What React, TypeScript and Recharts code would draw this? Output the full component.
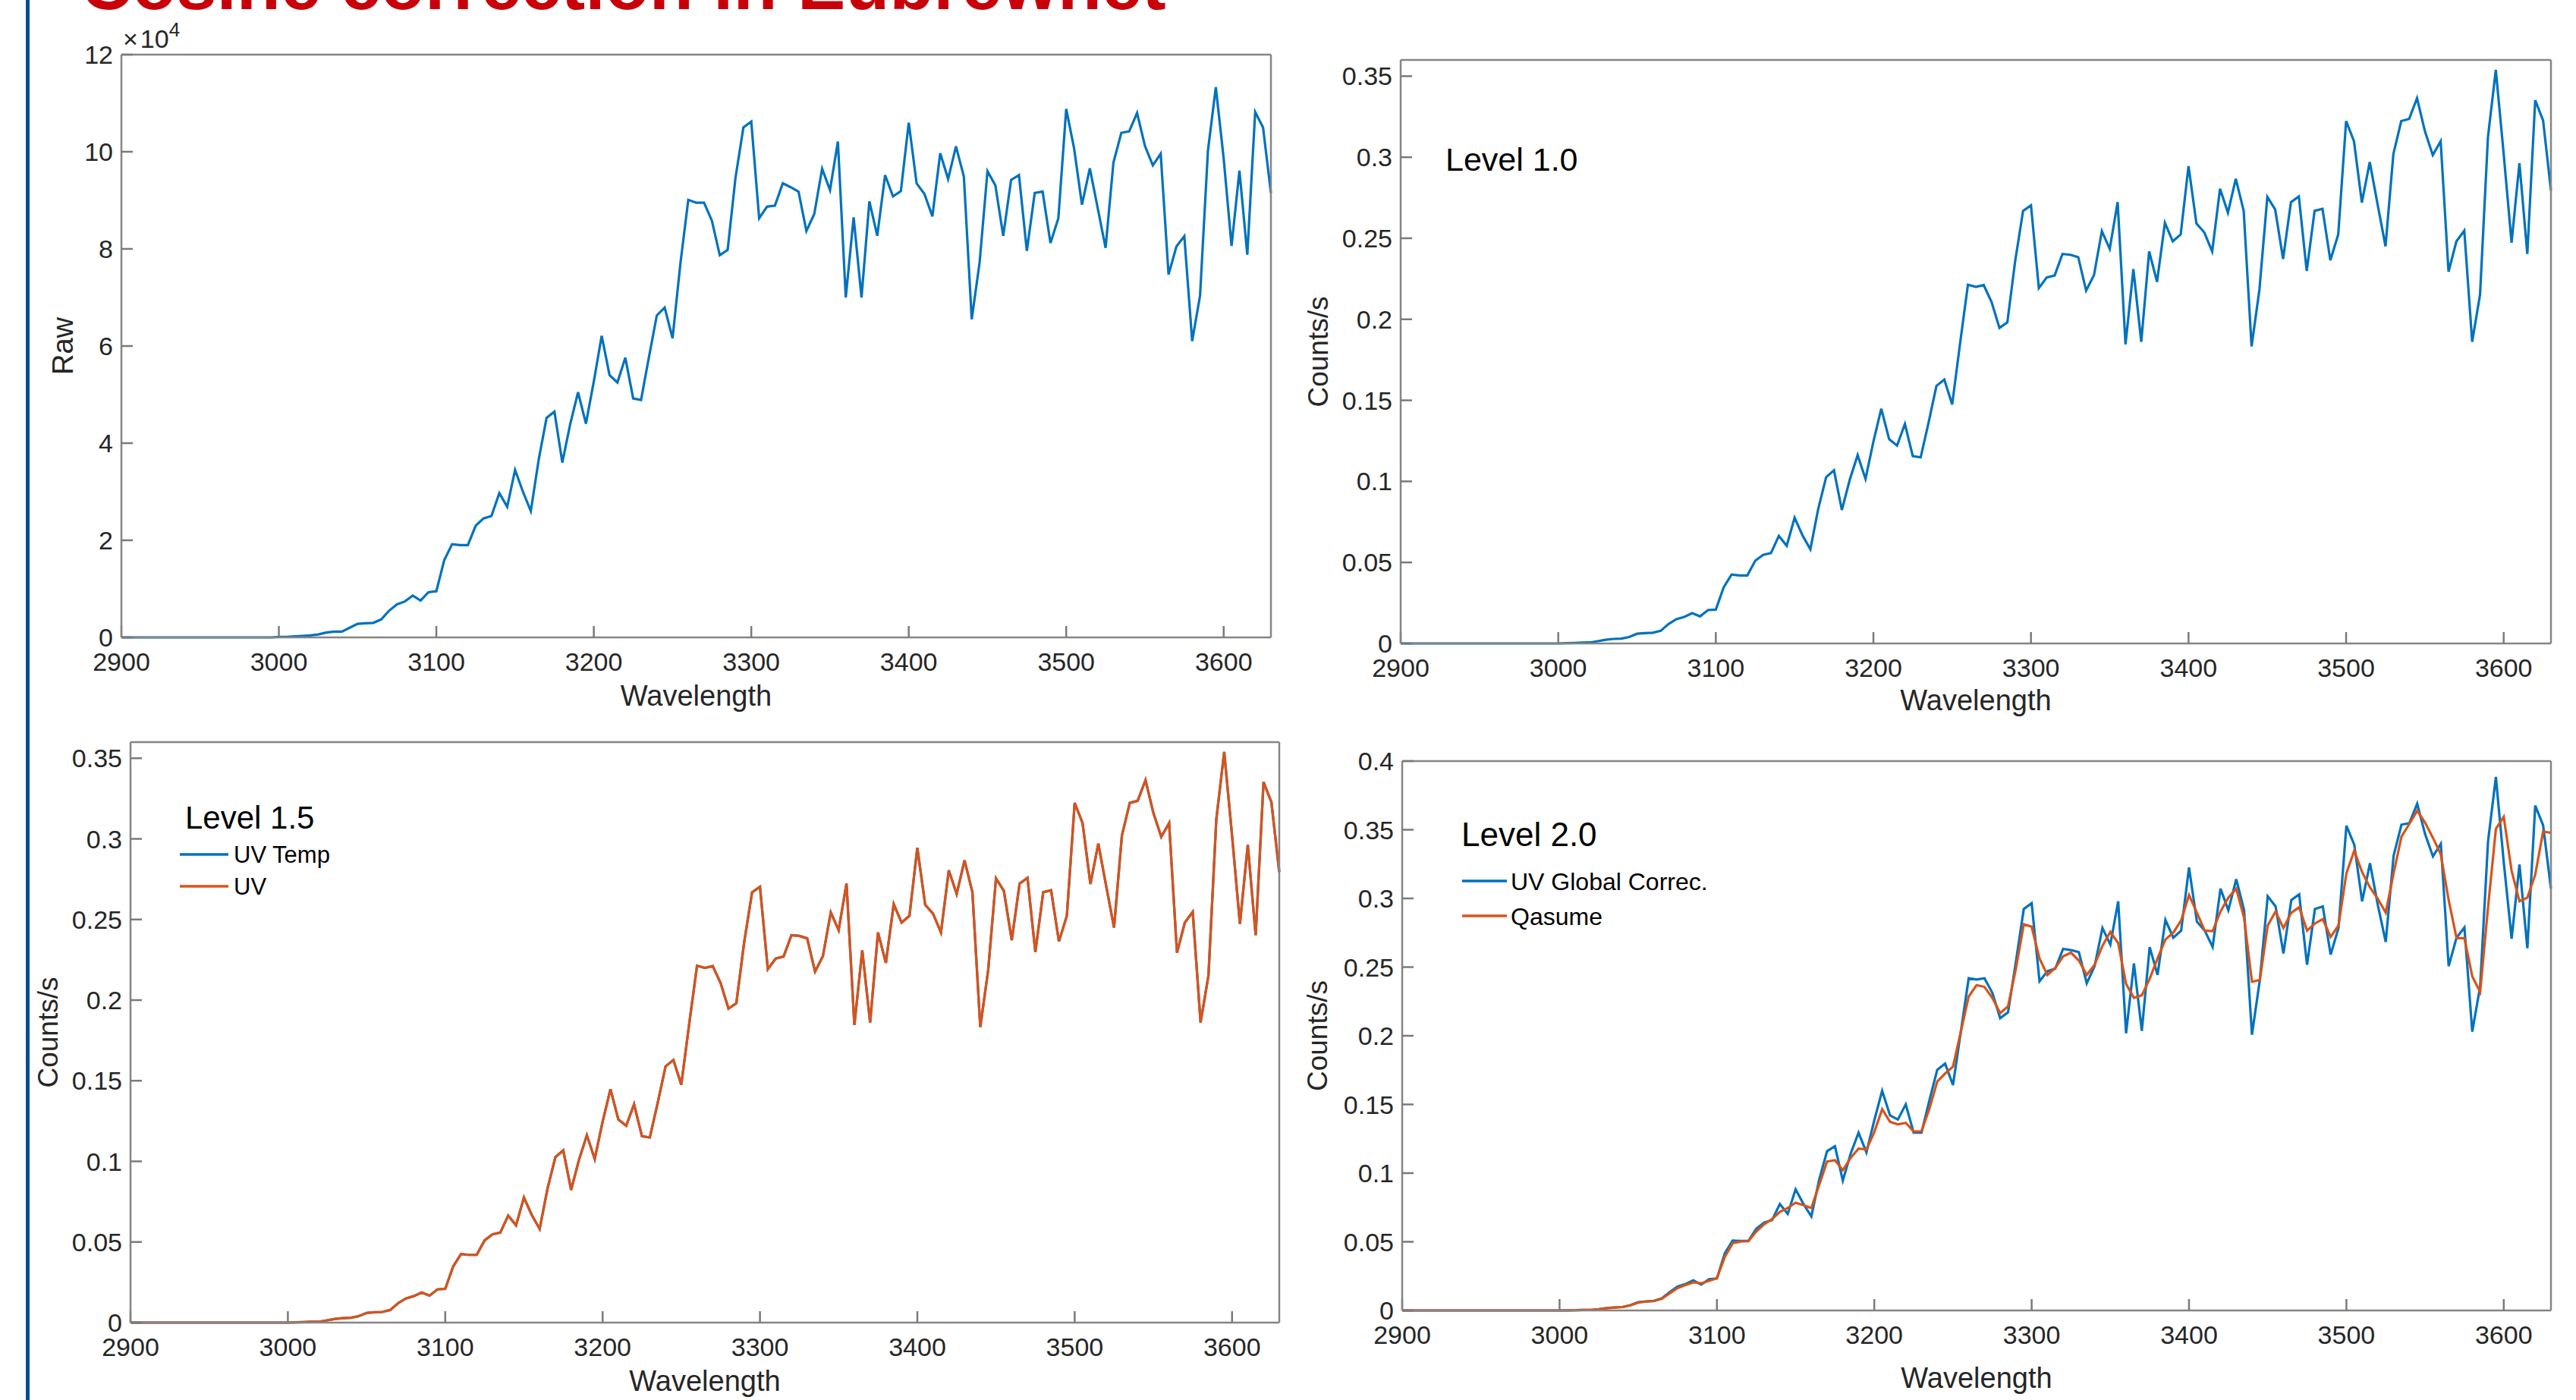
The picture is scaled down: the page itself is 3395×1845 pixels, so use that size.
import React from 'react';
import { LineChart, Line, XAxis, YAxis, Legend } from 'recharts';

const W = 3395;
const H = 1845;
const FONT = '"Liberation Sans", Arial, Helvetica, sans-serif';
const BLUE = '#0072BD';
const ORANGE = '#D95319';
const TXT = '#262626';

const WAVELENGTHS = [
  2900, 2905, 2910, 2915, 2920, 2925, 2930, 2935, 2940, 2945, 2950, 2955, 2960, 2965, 2970, 2975, 2980, 2985, 2990, 2995,
  3000, 3005, 3010, 3015, 3020, 3025, 3030, 3035, 3040, 3045, 3050, 3055, 3060, 3065, 3070, 3075, 3080, 3085, 3090, 3095,
  3100, 3105, 3110, 3115, 3120, 3125, 3130, 3135, 3140, 3145, 3150, 3155, 3160, 3165, 3170, 3175, 3180, 3185, 3190, 3195,
  3200, 3205, 3210, 3215, 3220, 3225, 3230, 3235, 3240, 3245, 3250, 3255, 3260, 3265, 3270, 3275, 3280, 3285, 3290, 3295,
  3300, 3305, 3310, 3315, 3320, 3325, 3330, 3335, 3340, 3345, 3350, 3355, 3360, 3365, 3370, 3375, 3380, 3385, 3390, 3395,
  3400, 3405, 3410, 3415, 3420, 3425, 3430, 3435, 3440, 3445, 3450, 3455, 3460, 3465, 3470, 3475, 3480, 3485, 3490, 3495,
  3500, 3505, 3510, 3515, 3520, 3525, 3530, 3535, 3540, 3545, 3550, 3555, 3560, 3565, 3570, 3575, 3580, 3585, 3590, 3595,
  3600, 3605, 3610, 3615, 3620, 3625, 3630,
];

// Raw counts, in units of 10^4
const RAW_E4 = [
  0, 0, 0, 0, 0, 0, 0, 0, 0, 0, 0, 0, 0, 0, 0, 0, 0, 0, 0, 0,
  0.01, 0.01, 0.02, 0.03, 0.04, 0.06, 0.1, 0.12, 0.12, 0.2, 0.28, 0.29, 0.3, 0.37, 0.55, 0.68, 0.74, 0.86, 0.76, 0.93,
  0.95, 1.59, 1.92, 1.9, 1.9, 2.3, 2.45, 2.5, 2.97, 2.69, 3.45, 3.0, 2.6, 3.66, 4.52, 4.65, 3.6, 4.39, 5.05, 4.4,
  5.27, 6.21, 5.4, 5.25, 5.76, 4.92, 4.89, 5.77, 6.63, 6.79, 6.16, 7.7, 9.01, 8.95, 8.95, 8.58, 7.87, 7.98, 9.47, 10.5,
  10.62, 8.63, 8.87, 8.89, 9.35, 9.27, 9.18, 8.37, 8.72, 9.65, 9.21, 10.21, 7.0, 8.65, 7.0, 8.98, 8.27, 9.52, 9.08, 9.19,
  10.6, 9.35, 9.13, 8.67, 9.97, 9.44, 10.11, 9.49, 6.55, 7.72, 9.6, 9.31, 8.27, 9.42, 9.52, 7.96, 9.15, 9.18, 8.12, 8.63,
  10.88, 10.07, 8.91, 9.66, 8.84, 8.02, 9.78, 10.39, 10.42, 10.8, 10.12, 9.72, 9.96, 7.47, 8.05, 8.26, 6.1, 7.04, 10.02, 11.33,
  9.86, 8.06, 9.61, 7.88, 10.82, 10.5, 9.15,
];

// Level 1.0 counts/s
const LEVEL_10 = [
  0, 0, 0, 0, 0, 0, 0, 0, 0, 0, 0, 0, 0, 0, 0, 0, 0, 0, 0, 0,
  0, 0.0002, 0.0003, 0.0005, 0.0006, 0.0014, 0.0023, 0.0028, 0.003, 0.004, 0.006, 0.0064, 0.0066, 0.0078, 0.012, 0.015, 0.0164, 0.0187, 0.0167, 0.0206,
  0.0209, 0.0347, 0.0425, 0.042, 0.042, 0.051, 0.0547, 0.0558, 0.0664, 0.0603, 0.0776, 0.0667, 0.0581, 0.0831, 0.1026, 0.1068, 0.0823, 0.101, 0.1162, 0.1015,
  0.1245, 0.1448, 0.126, 0.1221, 0.1354, 0.1156, 0.1148, 0.1362, 0.1589, 0.1628, 0.1475, 0.185, 0.2213, 0.22, 0.2211, 0.2106, 0.1947, 0.1981, 0.2361, 0.2669,
  0.2703, 0.2192, 0.2258, 0.227, 0.2403, 0.2398, 0.2383, 0.2177, 0.2273, 0.2544, 0.2434, 0.2723, 0.1845, 0.2309, 0.1861, 0.2419, 0.2231, 0.2595, 0.2481, 0.2523,
  0.2945, 0.2591, 0.2536, 0.2419, 0.2805, 0.2658, 0.2867, 0.2669, 0.1833, 0.2184, 0.2755, 0.2677, 0.2372, 0.2723, 0.2758, 0.2298, 0.2669, 0.2681, 0.2364, 0.2523,
  0.3223, 0.3098, 0.272, 0.297, 0.2708, 0.245, 0.302, 0.3223, 0.3236, 0.3364, 0.3161, 0.3013, 0.3098, 0.2294, 0.2481, 0.2547, 0.1861, 0.2153, 0.3122, 0.3539,
  0.302, 0.2473, 0.2963, 0.2403, 0.3352, 0.3227, 0.2794,
];

// Level 1.5: both curves coincide in the picture
const UV_TEMP_15 = LEVEL_10;
const UV_15 = LEVEL_10;

// Level 2.0
const UV_GLOBAL = [
  0, 0, 0, 0, 0, 0, 0, 0, 0, 0, 0, 0, 0, 0, 0, 0, 0, 0, 0, 0,
  0, 0.0001, 0.0002, 0.0003, 0.0004, 0.0009, 0.0018, 0.0022, 0.0025, 0.0039, 0.0061, 0.0066, 0.007, 0.0088, 0.0134, 0.0174, 0.0192, 0.0219, 0.0188, 0.0228,
  0.0233, 0.0416, 0.0509, 0.0506, 0.0506, 0.0595, 0.064, 0.0658, 0.0775, 0.0703, 0.0882, 0.0775, 0.0685, 0.0954, 0.116, 0.1196, 0.0945, 0.1142, 0.1295, 0.1151,
  0.1384, 0.16, 0.142, 0.139, 0.1501, 0.1295, 0.1295, 0.1528, 0.1752, 0.1797, 0.1641, 0.203, 0.2419, 0.241, 0.2419, 0.2313, 0.2128, 0.2171, 0.254, 0.2923,
  0.2966, 0.2397, 0.247, 0.2489, 0.2633, 0.2624, 0.2609, 0.2382, 0.2507, 0.2785, 0.2664, 0.2979, 0.2018, 0.2526, 0.2036, 0.2646, 0.2443, 0.2844, 0.2714, 0.2766,
  0.3225, 0.2831, 0.2766, 0.2646, 0.3071, 0.2914, 0.314, 0.2914, 0.2008, 0.2406, 0.3016, 0.2942, 0.26, 0.2988, 0.3029, 0.2517, 0.2923, 0.2942, 0.2591, 0.2785,
  0.353, 0.3391, 0.2979, 0.3256, 0.2951, 0.2683, 0.3311, 0.3537, 0.3548, 0.369, 0.3469, 0.3306, 0.3398, 0.2507, 0.2714, 0.2788, 0.203, 0.2359, 0.3413, 0.3884,
  0.3265, 0.2707, 0.3247, 0.2637, 0.3676, 0.3533, 0.3071,
];

const QASUME = [
  0, 0, 0, 0, 0, 0, 0, 0, 0, 0, 0, 0, 0, 0, 0, 0, 0, 0, 0, 0,
  0, 0.0001, 0.0002, 0.0003, 0.0004, 0.0009, 0.0016, 0.0021, 0.0025, 0.0037, 0.0057, 0.0065, 0.0069, 0.0085, 0.0125, 0.0163, 0.0185, 0.0205, 0.0198, 0.0215,
  0.0235, 0.039, 0.0489, 0.0502, 0.0504, 0.0574, 0.0628, 0.0665, 0.0718, 0.0746, 0.0785, 0.0767, 0.0746, 0.0915, 0.1085, 0.1094, 0.1022, 0.1111, 0.1178, 0.1172,
  0.1298, 0.1466, 0.1374, 0.1355, 0.1366, 0.1303, 0.1305, 0.1468, 0.1667, 0.1725, 0.1775, 0.203, 0.2286, 0.2369, 0.2356, 0.2276, 0.2165, 0.2215, 0.2489, 0.2812,
  0.2794, 0.2563, 0.2443, 0.2493, 0.2578, 0.2605, 0.2548, 0.2443, 0.2517, 0.2655, 0.2757, 0.2674, 0.2378, 0.2276, 0.2295, 0.2415, 0.2563, 0.2701, 0.2751, 0.284,
  0.3025, 0.2896, 0.2766, 0.2762, 0.2905, 0.3006, 0.3071, 0.2859, 0.2393, 0.2406, 0.2803, 0.2905, 0.2785, 0.2896, 0.2936, 0.2766, 0.2818, 0.2849, 0.272, 0.2803,
  0.3182, 0.3348, 0.3191, 0.308, 0.2997, 0.2896, 0.3182, 0.345, 0.3543, 0.3639, 0.3552, 0.3441, 0.3321, 0.2988, 0.2711, 0.2711, 0.2433, 0.2319, 0.2933, 0.3506,
  0.3594, 0.32, 0.2979, 0.3006, 0.3173, 0.3487, 0.3478,
];

const X_TICKS = [2900, 3000, 3100, 3200, 3300, 3400, 3500, 3600];
const RAW_TICKS = [0, 2, 4, 6, 8, 10, 12];
const COUNT_TICKS = [0, 0.05, 0.1, 0.15, 0.2, 0.25, 0.3, 0.35];
const COUNT_TICKS_L2 = [0, 0.05, 0.1, 0.15, 0.2, 0.25, 0.3, 0.35, 0.4];

const rows = WAVELENGTHS.map((w, i) => ({
  w,
  raw: RAW_E4[i],
  l10: LEVEL_10[i],
  uvTemp: UV_TEMP_15[i],
  uv: UV_15[i],
  glob: UV_GLOBAL[i],
  qas: QASUME[i],
}));

type Rect = { l: number; t: number; r: number; b: number };
type Series = { key: string; color: string; name: string };
type LegendSpec = {
  title: string;
  titleX: number;
  titleY: number;
  titleSize: number;
  items?: { name: string; color: string; y: number }[];
  lineX1?: number;
  lineX2?: number;
  textX?: number;
  itemSize?: number;
};

type PanelProps = {
  plot: Rect;
  yDomain: [number, number];
  yTicks: number[];
  series: Series[];
  yLabel: string;
  yLabelX: number;
  yLabelSize: number;
  xLabelY: number;
  legend?: LegendSpec;
  exponent?: boolean;
};

const axisLineStyle = { stroke: '#858585', strokeWidth: 2.5 };
const tickLineStyle = { stroke: '#7a7a7a', strokeWidth: 2.5 };
const tickFont = { fontSize: 34, fill: TXT, fontFamily: FONT };

function Panel(p: PanelProps) {
  const { l, t, r, b } = p.plot;
  const cx = (l + r) / 2;
  const cy = (t + b) / 2;
  const lg = p.legend;
  return (
    <div style={{ position: 'absolute', left: 0, top: 0, width: W, height: H }}>
      <LineChart
        width={W}
        height={H}
        data={rows}
        margin={{ left: l - 1, top: t - 1, right: W - r - 1, bottom: H - b - 1 }}
      >
        <XAxis
          xAxisId="t"
          dataKey="w"
          type="number"
          orientation="top"
          domain={[2900, 3630]}
          ticks={X_TICKS}
          allowDataOverflow
          interval={0}
          height={1}
          tickSize={-15}
          axisLine={axisLineStyle}
          tickLine={tickLineStyle}
          tick={false}
          label={
            p.exponent
              ? {
                  value: '×10^4',
                  content: () => (
                    <text x={l + 2} y={63} fontSize={34} fill={TXT} fontFamily={FONT}>
                      ×
                      <tspan dx={3}>10</tspan>
                      <tspan fontSize={26} dy={-15}>4</tspan>
                    </text>
                  ),
                }
              : undefined
          }
        />
        <YAxis
          yAxisId="r"
          type="number"
          orientation="right"
          domain={p.yDomain}
          ticks={p.yTicks}
          allowDataOverflow
          interval={0}
          width={1}
          tickSize={-15}
          axisLine={axisLineStyle}
          tickLine={tickLineStyle}
          tick={false}
        />
        <XAxis
          xAxisId="b"
          dataKey="w"
          type="number"
          orientation="bottom"
          domain={[2900, 3630]}
          ticks={X_TICKS}
          interval={0}
          height={1}
          tickSize={-15}
          tickMargin={35}
          axisLine={axisLineStyle}
          tickLine={tickLineStyle}
          tick={tickFont}
          label={{
            value: 'Wavelength',
            content: () => (
              <text x={cx} y={p.xLabelY} textAnchor="middle" fontSize={38} fill={TXT} fontFamily={FONT}>
                Wavelength
              </text>
            ),
          }}
        />
        <YAxis
          yAxisId="l"
          type="number"
          orientation="left"
          domain={p.yDomain}
          ticks={p.yTicks}
          interval={0}
          width={1}
          tickSize={-15}
          tickMargin={26}
          axisLine={axisLineStyle}
          tickLine={tickLineStyle}
          tick={tickFont}
          label={{
            value: p.yLabel,
            content: () => (
              <text
                x={p.yLabelX}
                y={cy}
                textAnchor="middle"
                fontSize={p.yLabelSize}
                fill={TXT}
                fontFamily={FONT}
                transform={`rotate(-90, ${p.yLabelX}, ${cy})`}
              >
                {p.yLabel}
              </text>
            ),
          }}
        />
        {p.series.map((s) => (
          <Line
            key={s.key}
            xAxisId="b"
            yAxisId="l"
            type="linear"
            dataKey={s.key}
            name={s.name}
            stroke={s.color}
            strokeWidth={3.2}
            dot={false}
            activeDot={false}
            isAnimationActive={false}
          />
        ))}
        {lg && (
          <Legend
            layout="vertical"
            align="center"
            verticalAlign="middle"
            wrapperStyle={{ left: 0, top: 0, width: W, height: H, pointerEvents: 'none' }}
            content={() => (
              <svg width={W} height={H} style={{ position: 'absolute', left: 0, top: 0 }}>
                <text x={lg.titleX} y={lg.titleY} fontSize={lg.titleSize} fill="#000" fontFamily={FONT}>
                  {lg.title}
                </text>
                {(lg.items || []).map((it) => (
                  <g key={it.name}>
                    <line x1={lg.lineX1} x2={lg.lineX2} y1={it.y} y2={it.y} stroke={it.color} strokeWidth={3.5} />
                    <text
                      x={lg.textX}
                      y={it.y + (lg.itemSize || 31) * 0.36}
                      fontSize={lg.itemSize}
                      fill="#000"
                      fontFamily={FONT}
                    >
                      {it.name}
                    </text>
                  </g>
                ))}
              </svg>
            )}
          />
        )}
      </LineChart>
    </div>
  );
}

export default function App() {
  return (
    <div
      style={{
        position: 'absolute',
        left: 0,
        top: 0,
        width: W,
        height: H,
        background: '#fff',
        overflow: 'hidden',
        fontFamily: FONT,
      }}
    >
      <svg width={W} height={H} style={{ position: 'absolute', left: 0, top: 0 }}>
        <rect x={34} y={0} width={5} height={H} fill="#0a4a9a" />
        <text x={106} y={12} fontSize={95} fontWeight="bold" fill="#C8000A" fontFamily={FONT}>
          Cosine correction in Eubrewnet
        </text>
      </svg>

      <Panel
        plot={{ l: 160, t: 72, r: 1675, b: 840 }}
        yDomain={[0, 12]}
        yTicks={RAW_TICKS}
        series={[{ key: 'raw', color: BLUE, name: 'Raw' }]}
        yLabel="Raw"
        yLabelX={96}
        yLabelSize={38}
        xLabelY={930}
        exponent
      />

      <Panel
        plot={{ l: 1846, t: 79, r: 3362, b: 848 }}
        yDomain={[0, 0.36]}
        yTicks={COUNT_TICKS}
        series={[{ key: 'l10', color: BLUE, name: 'Level 1.0' }]}
        yLabel="Counts/s"
        yLabelX={1750}
        yLabelSize={37}
        xLabelY={936}
        legend={{ title: 'Level 1.0', titleX: 1905, titleY: 225, titleSize: 43 }}
      />

      <Panel
        plot={{ l: 172, t: 978, r: 1686, b: 1743 }}
        yDomain={[0, 0.36]}
        yTicks={COUNT_TICKS}
        series={[
          { key: 'uvTemp', color: BLUE, name: 'UV Temp' },
          { key: 'uv', color: ORANGE, name: 'UV' },
        ]}
        yLabel="Counts/s"
        yLabelX={76}
        yLabelSize={37}
        xLabelY={1833}
        legend={{
          title: 'Level 1.5',
          titleX: 244,
          titleY: 1092,
          titleSize: 42,
          items: [
            { name: 'UV Temp', color: BLUE, y: 1126 },
            { name: 'UV', color: ORANGE, y: 1168 },
          ],
          lineX1: 237,
          lineX2: 301,
          textX: 308,
          itemSize: 31,
        }}
      />

      <Panel
        plot={{ l: 1848, t: 1003, r: 3362, b: 1727 }}
        yDomain={[0, 0.4]}
        yTicks={COUNT_TICKS_L2}
        series={[
          { key: 'glob', color: BLUE, name: 'UV Global Correc.' },
          { key: 'qas', color: ORANGE, name: 'Qasume' },
        ]}
        yLabel="Counts/s"
        yLabelX={1749}
        yLabelSize={37}
        xLabelY={1829}
        legend={{
          title: 'Level 2.0',
          titleX: 1926,
          titleY: 1115,
          titleSize: 44,
          items: [
            { name: 'UV Global Correc.', color: BLUE, y: 1161 },
            { name: 'Qasume', color: ORANGE, y: 1207 },
          ],
          lineX1: 1927,
          lineX2: 1986,
          textX: 1991,
          itemSize: 32,
        }}
      />
    </div>
  );
}
